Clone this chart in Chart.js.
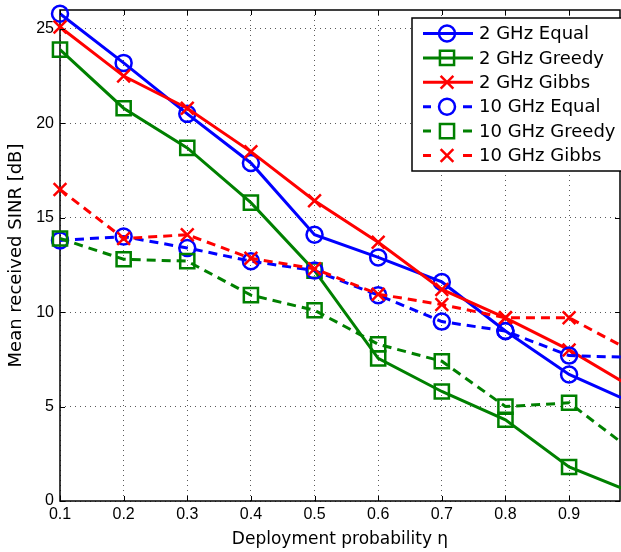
<!DOCTYPE html>
<html><head><meta charset="utf-8">
<script src="https://cdn.jsdelivr.net/npm/chart.js@4/dist/chart.umd.min.js"></script>
<style>html,body{margin:0;padding:0;background:#fff}canvas{display:block}</style>
</head><body>
<canvas id="c" width="621" height="552"></canvas>
<script>
// ---- data ----
const xValues = [0.1, 0.2, 0.3, 0.4, 0.5, 0.6, 0.7, 0.8, 0.9, 1.0];
const equal2   = [25.8, 23.2, 20.5, 17.9, 14.1, 12.9, 11.6, 9.0, 6.7, 5.2];
const greedy2  = [23.9, 20.8, 18.7, 15.8, 12.2, 7.55, 5.8, 4.3, 1.8, 0.45];
const gibbs2   = [25.1, 22.5, 20.8, 18.5, 15.9, 13.7, 11.2, 9.7, 8.0, 6.0];
const equal10  = [13.8, 14.0, 13.4, 12.7, 12.2, 10.9, 9.5, 9.0, 7.7, 7.6];
const greedy10 = [13.9, 12.8, 12.7, 10.9, 10.1, 8.3, 7.4, 5.0, 5.2, 2.65];
const gibbs10  = [16.5, 13.9, 14.1, 12.85, 12.3, 10.95, 10.4, 9.7, 9.7, 7.9];
const seriesLabels = ['2 GHz Equal', '2 GHz Greedy', '2 GHz Gibbs', '10 GHz Equal', '10 GHz Greedy', '10 GHz Gibbs'];
const xTicks = [0.1, 0.2, 0.3, 0.4, 0.5, 0.6, 0.7, 0.8, 0.9];
const yTicks = [0, 5, 10, 15, 20, 25];
const xTitle = 'Deployment probability η';
const yTitle = 'Mean received SINR [dB]';

const BLUE = '#0000ff', GREEN = '#008000', RED = '#ff0000';
const styleMap = {
  circle:   {pointStyle: 'circle',   radius: 8},
  rect:     {pointStyle: 'rect',     radius: 10},
  crossRot: {pointStyle: 'crossRot', radius: 9}
};
const seriesValues = [equal2, greedy2, gibbs2, equal10, greedy10, gibbs10];
const seriesColors = [BLUE, GREEN, RED, BLUE, GREEN, RED];
const seriesMarkers = ['circle', 'rect', 'crossRot', 'circle', 'rect', 'crossRot'];
const seriesDashed = [false, false, false, true, true, true];
const DASH = [9, 6];

const datasets = seriesValues.map((vals, i) => {
  const m = styleMap[seriesMarkers[i]];
  return {
    label: seriesLabels[i],
    data: xValues.map((x, j) => ({x: x, y: vals[j]})),
    borderColor: seriesColors[i],
    backgroundColor: 'rgba(0,0,0,0)',
    pointBorderColor: seriesColors[i],
    pointBackgroundColor: 'rgba(0,0,0,0)',
    borderWidth: 3,
    borderDash: seriesDashed[i] ? DASH : [],
    pointStyle: m.pointStyle,
    pointRadius: xValues.map(x => x > 0.95 ? 0 : m.radius),
    pointBorderWidth: 2.5,
    pointHoverRadius: 0,
    tension: 0,
    fill: false,
    clip: false,
    order: 10 - i,
    _dashed: seriesDashed[i],
    _marker: m
  };
});

const frameTicks = {
  id: 'frameTicks',
  beforeDatasetsDraw(chart) {
    const {ctx, chartArea: a} = chart;
    ctx.save();
    ctx.strokeStyle = '#000';
    ctx.lineWidth = 1.5;
    ctx.setLineDash([]);
    ctx.strokeRect(a.left, a.top, a.right - a.left, a.bottom - a.top);
    ctx.restore();
  },
  afterDatasetsDraw(chart) {
    const {ctx, chartArea: a, scales} = chart;
    ctx.save();
    ctx.strokeStyle = '#000';
    ctx.lineWidth = 1;
    ctx.setLineDash([]);
    const L = 5;
    ctx.beginPath();
    xTicks.forEach(v => {
      const px = Math.round(scales.x.getPixelForValue(v)) + 0.5;
      ctx.moveTo(px, a.bottom); ctx.lineTo(px, a.bottom - L);
      ctx.moveTo(px, a.top); ctx.lineTo(px, a.top + L);
    });
    yTicks.forEach(v => {
      const py = Math.round(scales.y.getPixelForValue(v)) + 0.5;
      ctx.moveTo(a.left, py); ctx.lineTo(a.left + L, py);
      ctx.moveTo(a.right, py); ctx.lineTo(a.right - L, py);
    });
    ctx.stroke();
    ctx.restore();
  }
};

const legendBox = {
  id: 'legendBox',
  afterDraw(chart) {
    const {ctx} = chart;
    const bx = 412, by = 18, bw = 212, bh = 153;
    ctx.save();
    ctx.fillStyle = '#fff';
    ctx.fillRect(bx, by, bw, bh);
    ctx.strokeStyle = '#000';
    ctx.lineWidth = 1.5;
    ctx.setLineDash([]);
    ctx.strokeRect(bx, by, bw, bh);
    chart.data.datasets.forEach((d, i) => {
      const y = 33.5 + i * 24.4;
      ctx.strokeStyle = d.borderColor;
      ctx.lineWidth = 3;
      ctx.setLineDash([]);
      ctx.beginPath();
      if (d._dashed) {
        ctx.moveTo(423, y); ctx.lineTo(431, y);
        ctx.moveTo(463, y); ctx.lineTo(472, y);
      } else {
        ctx.moveTo(423, y); ctx.lineTo(473, y);
      }
      ctx.stroke();
      ctx.fillStyle = 'rgba(0,0,0,0)';
      ctx.lineWidth = 2.5;
      Chart.helpers.drawPoint(ctx, {pointStyle: d._marker.pointStyle, radius: d._marker.radius, rotation: 0, borderWidth: 2.5}, 447, y);
      ctx.fillStyle = '#000';
      ctx.font = '18px "DejaVu Sans"';
      ctx.textBaseline = 'middle';
      ctx.textAlign = 'left';
      ctx.fillText(d.label, 479, y + 1);
    });
    ctx.restore();
  }
};

new Chart(document.getElementById('c'), {
  type: 'line',
  data: {datasets: datasets},
  options: {
    responsive: false,
    animation: false,
    devicePixelRatio: 1,
    layout: {autoPadding: false, padding: {top: 10, right: 1, left: 0, bottom: 0}},
    plugins: {legend: {display: false}, tooltip: {enabled: false}},
    scales: {
      x: {
        type: 'linear', min: 0.1, max: 0.98,
        afterBuildTicks: s => { s.ticks = xTicks.map(v => ({value: v})); },
        afterFit: s => { s.height = 51; s.paddingLeft = 0; s.paddingRight = 0; },
        ticks: {color: '#000', font: {family: '"Liberation Sans", Arial', size: 16}, padding: 4, maxRotation: 0, callback: v => Number(v).toFixed(1)},
        grid: {color: 'rgba(0,0,0,0.65)', lineWidth: 1, drawTicks: false},
        border: {display: false, dash: [1, 4]},
        title: {display: true, text: xTitle, color: '#000', font: {family: '"DejaVu Sans"', size: 17}, padding: {top: 0, bottom: 2}}
      },
      y: {
        type: 'linear', min: 0, max: 26,
        afterBuildTicks: s => { s.ticks = yTicks.map(v => ({value: v})); },
        afterFit: s => { s.width = 60; s.paddingTop = 0; s.paddingBottom = 0; },
        ticks: {color: '#000', font: {family: '"Liberation Sans", Arial', size: 16}, padding: 6},
        grid: {color: 'rgba(0,0,0,0.65)', lineWidth: 1, drawTicks: false},
        border: {display: false, dash: [1, 4]},
        title: {display: true, text: yTitle, color: '#000', font: {family: '"DejaVu Sans"', size: 18}, padding: {top: 6, bottom: 0}}
      }
    }
  },
  plugins: [frameTicks, legendBox]
});
</script>
</body></html>
